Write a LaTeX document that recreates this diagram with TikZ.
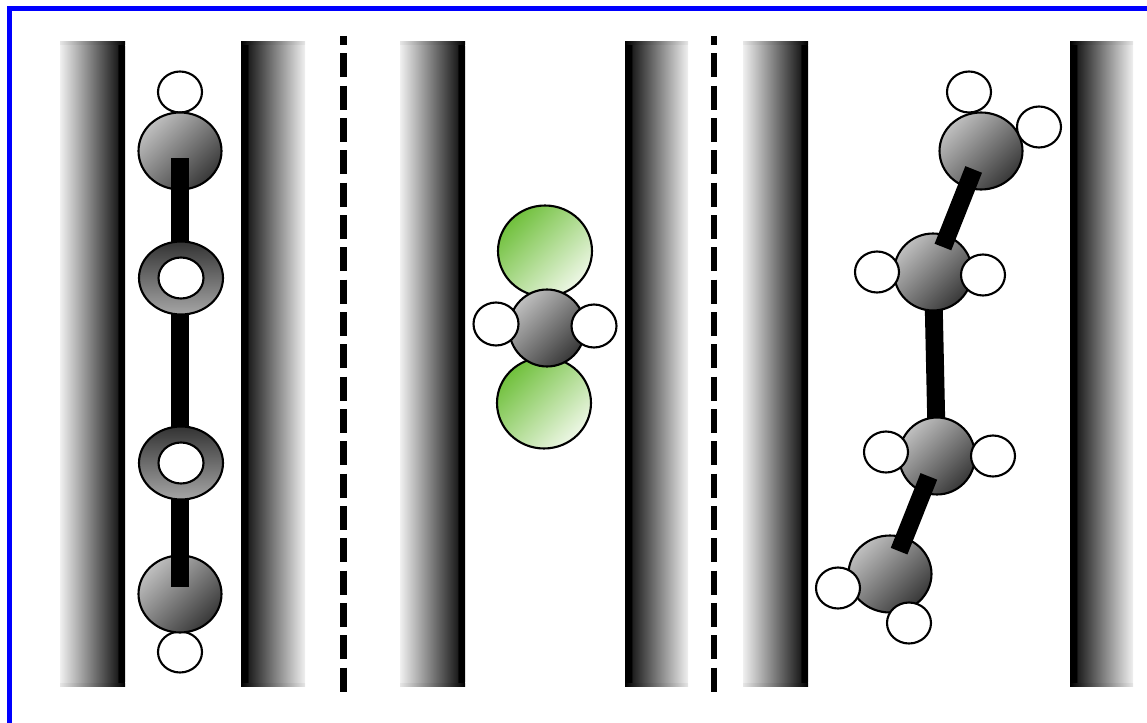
\documentclass[tikz,border=0pt]{standalone}
\usetikzlibrary{shapes.geometric}
\pgfdeclarelayer{back}
\pgfsetlayers{back,main}
% wall shadings (25bp..75bp is what gets stretched over the path)
\pgfdeclarehorizontalshading{wallfade}{100bp}{color(0bp)=(white); color(25bp)=(black!6); color(69bp)=(black!88); color(70bp)=(black); color(100bp)=(black)}
\pgfdeclarehorizontalshading{walledge}{100bp}{color(0bp)=(black!10); color(25bp)=(black!10); color(75bp)=(black); color(100bp)=(black)}
\definecolor{lobegreen}{RGB}{112,192,60}
\definecolor{lobepale}{RGB}{238,247,230}

\begin{document}
\begin{tikzpicture}[x=0.02cm, y=-0.02cm,
    atom/.style={ellipse, draw, line width=1.2pt, inner sep=0pt},
    carbon/.style={atom, minimum width=1.66cm, minimum height=1.54cm, top color=black!25, bottom color=black!78, shading angle=45},
    hydro/.style={atom, fill=white, minimum width=0.88cm, minimum height=0.82cm},
    ring/.style={atom, minimum width=1.68cm, minimum height=1.46cm, top color=black!80, bottom color=black!35},
    hole/.style={atom, fill=white, minimum width=0.9cm, minimum height=0.82cm},
    lobe/.style={atom, minimum width=1.88cm, minimum height=1.82cm, top color=lobegreen, bottom color=lobepale, shading angle=45},
    bond/.style={line width=10.2pt},
    divider/.style={line width=3.7pt, dash pattern=on 13.6pt off 4.8pt, dash phase=8.5pt}]
    \useasboundingbox (0,0) rectangle (1147,723);

    % frame
    \draw[blue, line width=2.85pt] (9.5,723) -- (9.5,8.5) -- (1147,8.5);

    % pore walls
    \foreach \xa/\xb/\ang in {60/125/0, 241/305/180, 400/465/0, 625/688/180, 743/808/0, 1070/1133/180}{
        \shade[shading=wallfade, shading angle=\ang, rounded corners=2pt] (\xa,42) rectangle (\xb,686);
        \shade[shading=walledge, shading angle=\ang] (\xa,42) rectangle (\xb,45);
        \shade[shading=walledge, shading angle=\ang] (\xa,683) rectangle (\xb,686);
    }
    \draw[divider] (343.5,36) -- (343.5,695);
    \draw[divider] (714,36) -- (714,695);

    % linear chain
    \node[hydro] (lht) at (180,92) {};
    \node[hydro] (lhb) at (180,652) {};
    \node[carbon] (lct) at (180,151) {};
    \node[carbon] (lcb) at (180,594) {};
    \draw[bond, shorten <=4pt, shorten >=4pt] (lct.center) -- (lcb.center);
    \node[ring] (lra) at (181,278) {};
    \node[hole] (lha) at (lra) {};
    \node[ring] (lrb) at (181,463) {};
    \node[hole] (lhc) at (lrb) {};

    % pi lobes
    \node[lobe] (mlt) at (545,251) {};
    \node[lobe] (mlb) at (544,403) {};
    \node[carbon, minimum width=1.52cm] (mc) at (547,328) {};
    \node[hydro, minimum width=0.9cm, minimum height=0.86cm] (mhl) at (496,324) {};
    \node[hydro, minimum width=0.9cm, minimum height=0.86cm] (mhr) at (594,326) {};

    % twisted chain
    \node[hydro] (rha) at (969,92) {};
    \node[carbon] (rca) at (981,151) {};
    \node[hydro] (rhb) at (1039,127) {};
    \node[carbon, minimum width=1.56cm] (rcb) at (933,272) {};
    \node[hydro] (rhc) at (877,272) {};
    \node[hydro] (rhd) at (983,275) {};
    \node[carbon, minimum width=1.52cm] (rcc) at (937,456) {};
    \node[hydro] (rhe) at (886,452) {};
    \node[hydro] (rhf) at (993,456) {};
    \node[carbon] (rcd) at (890,574) {};
    \node[hydro] (rhg) at (838,588) {};
    \node[hydro] (rhh) at (909,623) {};
    \draw[bond, shorten <=11.3pt, shorten >=15.3pt] (rca.center) -- (rcb.center);
    \begin{pgfonlayer}{back}
        \draw[bond] (rcb.center) -- (rcc.center);
    \end{pgfonlayer}
    \draw[bond, shorten <=12.5pt, shorten >=14pt] (rcc.center) -- (rcd.center);
\end{tikzpicture}
\end{document}
